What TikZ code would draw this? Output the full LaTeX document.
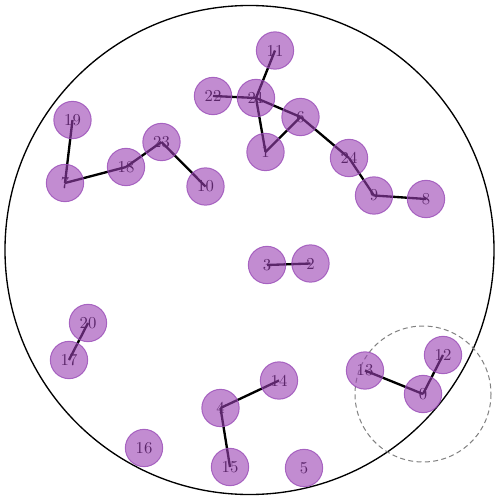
\documentclass[tikz,border=0pt]{standalone}
\definecolor{nodefill}{rgb}{0.6,0.25,0.7}
\definecolor{nodeedge}{rgb}{0.6,0.3,0.72}
\tikzset{
  lbl/.style={inner sep=0pt, font=\normalsize},
  link/.style={line width=1.4pt, black},
  dot/.style={circle, minimum size=22.4pt, inner sep=0pt, fill=nodefill, fill opacity=0.6, draw=nodeedge, draw opacity=0.8, line width=0.6pt},
  ring/.style={line width=0.8pt, black},
  zone/.style={gray, dashed, line width=0.6pt, dash pattern=on 3pt off 2pt}
}
\begin{document}
\begin{tikzpicture}[x=0.6pt,y=-0.6pt]
\useasboundingbox (0,0) rectangle (500,500);
\coordinate (ringc) at (249.5,250);
\draw[ring] (ringc) circle[radius=244.5];
\foreach \n/\x/\y in {
 11/275/50.5, 22/213/96, 21/256/98, 6/300.5/117, 1/265.5/152,
 24/349/158, 9/374/195.5, 8/426/199, 19/72.5/120, 7/65/183,
 18/126/167, 23/161.5/142, 10/205.5/186.5, 3/267/265, 2/310.5/263.5,
 20/88/323, 17/69/360, 13/365/370.5, 12/443/355, 0/423/394,
 4/220.5/408, 14/279/380.5, 15/230/467, 16/144/448, 5/304/468}{
  \coordinate (p\n) at (\x,\y);
  \node[lbl] (t\n) at (p\n) {\n};
}
\draw[zone] (p0) circle[radius=68];
\foreach \a/\b in {11/21, 22/21, 21/1, 21/6, 1/6, 6/24, 24/9, 9/8,
  19/7, 7/18, 18/23, 23/10, 3/2, 20/17, 13/0, 0/12, 4/14, 4/15}{
  \draw[link] (p\a) -- (p\b);
}
\foreach \n in {0,...,24}{
  \node[dot] (c\n) at (p\n) {};
}
\end{tikzpicture}
\end{document}
